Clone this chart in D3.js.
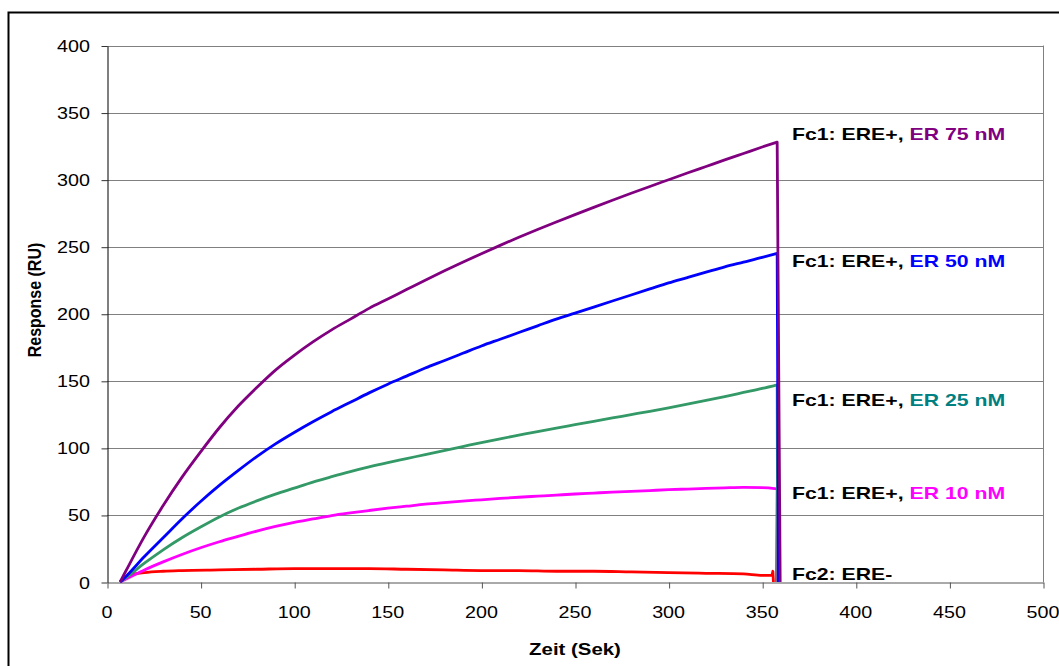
<!DOCTYPE html>
<html>
<head>
<meta charset="utf-8">
<script src="https://cdn.jsdelivr.net/npm/d3@7"></script>
<style>
  html, body { margin: 0; padding: 0; background: #fff; }
  svg { display: block; }
  text { font-family: "Liberation Sans", Arial, sans-serif; }
</style>
</head>
<body>
<svg id="chart" width="1059" height="666"></svg>
<script>
// ---- data ----
const xTicks = [0, 50, 100, 150, 200, 250, 300, 350, 400, 450, 500];
const yTicks = [0, 50, 100, 150, 200, 250, 300, 350, 400];

const time = [7, 10, 20, 30, 40, 50, 60, 70, 80, 90, 100, 110, 120, 130, 140, 150, 160, 170, 180, 190,
              200, 210, 220, 230, 240, 250, 260, 270, 280, 290, 300, 310, 320, 330, 340, 350, 358];

const er75 = [0, 8, 34, 57, 78, 97, 115, 131, 145, 158, 169, 179, 188, 196, 204, 211, 218, 225, 231.8, 238.4,
              244.8, 251, 257, 262.8, 268.4, 273.9, 279.3, 284.6, 289.8, 294.9, 299.9, 304.9, 309.8, 314.7, 319.5, 324.3, 328];
const er50 = [0, 4, 19, 33, 47, 60, 72, 83, 93.5, 103, 111.5, 119.5, 127, 134, 141, 147.5, 153.5, 159.5, 165, 170.5,
              176, 181, 186, 191, 196, 200.5, 205, 209.5, 214, 218.5, 223, 227, 231, 235, 238.5, 242, 245];
const er25 = [0, 3, 14, 24, 33, 41, 48.5, 55, 60.5, 65.5, 70, 74.5, 78.5, 82.3, 85.8, 89, 92, 95, 98, 101,
              104, 106.8, 109.5, 112.2, 114.8, 117.3, 119.8, 122.3, 124.8, 127.3, 129.9, 132.6, 135.4, 138.3, 141.3, 144.3, 147];
const er10 = [0, 2, 9, 15, 20.5, 25.5, 30, 34, 38, 41.5, 44.5, 47, 49.5, 51.5, 53.3, 55, 56.5, 58, 59.2, 60.3,
              61.3, 62.3, 63.2, 64, 64.8, 65.6, 66.3, 67, 67.6, 68.2, 68.8, 69.3, 69.8, 70.2, 70.5, 70.3, 69.5];

const timeFc2 = [7, 10, 15, 20, 30, 40, 60, 80, 100, 120, 140, 160, 180, 200, 220, 240, 260, 280, 300, 320, 340, 350, 355, 355.7];
const fc2     = [0, 3, 6, 7, 8, 8.5, 9, 9.5, 10, 10, 10, 9.5, 9, 8.5, 8.5, 8, 8, 7.5, 7, 6.5, 6, 5, 5, 8];

// time at which each curve drops back to zero (end of injection)
const seriesNames = ["Fc2", "ER 10 nM", "ER 25 nM", "ER 50 nM", "ER 75 nM"];
const dropTime = [356, 357.6, 358.3, 358.7, 359.6];
const lineColors = ["#FF0000", "#FF00FF", "#339966", "#0000FF", "#800080"];

const labelPrefix = ["Fc2: ERE-", "Fc1: ERE+, ", "Fc1: ERE+, ", "Fc1: ERE+, ", "Fc1: ERE+, "];
const labelSuffix = ["", "ER 10 nM", "ER 25 nM", "ER 50 nM", "ER 75 nM"];
const labelColors = ["#000000", "#FF00FF", "#008080", "#0000FF", "#800080"];
const labelAt = [6, 66, 136, 239, 334]; // response value level each label is anchored at

// ---- layout ----
const svg = d3.select("#chart");
const x = d3.scaleLinear().domain([0, 500]).range([107, 1043]);
const y = d3.scaleLinear().domain([0, 400]).range([582, 45.5]);

// outer frame
svg.append("rect").attr("x", 8.5).attr("y", 12.5).attr("width", 1200).attr("height", 800)
  .attr("fill", "none").attr("stroke", "#000").attr("stroke-width", 2);

// gridlines
svg.append("g").selectAll("line").data(yTicks.filter(d => d > 0)).join("line")
  .attr("x1", x(0)).attr("x2", x(500))
  .attr("y1", d => Math.round(y(d)) + 0.5).attr("y2", d => Math.round(y(d)) + 0.5)
  .attr("stroke", "#808080").attr("stroke-width", 1);

// right plot border
svg.append("line").attr("x1", x(500) + 0.5).attr("x2", x(500) + 0.5)
  .attr("y1", y(400)).attr("y2", y(0)).attr("stroke", "#808080");

// axes
const yAxis = d3.axisLeft(y).tickValues(yTicks).tickSize(6).tickSizeOuter(0).tickFormat("");
const gy = svg.append("g").attr("transform", `translate(${x(0) + 0.5},0.5)`).call(yAxis);
gy.select(".domain").attr("stroke", "#000");
gy.selectAll(".tick line").attr("stroke", "#333");

const xAxis = d3.axisBottom(x).tickValues(xTicks).tickSize(6).tickSizeOuter(0).tickFormat("");
const gx = svg.append("g").attr("transform", `translate(0.5,${Math.round(y(0)) + 0.5})`).call(xAxis);
gx.select(".domain").attr("stroke", "#555");
gx.selectAll(".tick line").attr("stroke", "#555");

// tick labels (stretched horizontally like the original)
const sxReg = 1.16, sxBold = 1.2, sxLabel = 1.25;
svg.append("g").selectAll("text").data(yTicks).join("text")
  .attr("transform", d => `translate(90,${y(d) + 6.5}) scale(${sxReg},1)`)
  .attr("text-anchor", "end").attr("font-size", 17).attr("fill", "#000")
  .text(d => d);
svg.append("g").selectAll("text").data(xTicks).join("text")
  .attr("transform", d => `translate(${x(d)},618) scale(${sxReg},1)`)
  .attr("text-anchor", "middle").attr("font-size", 17).attr("fill", "#000")
  .text(d => d);

// axis titles
svg.append("text")
  .attr("transform", `translate(575,655) scale(${sxBold},1)`)
  .attr("text-anchor", "middle").attr("font-size", 17).attr("font-weight", "bold")
  .text("Zeit (Sek)");
svg.append("text")
  .attr("transform", `translate(41,300) scale(${sxBold},1) rotate(-90)`)
  .attr("text-anchor", "middle").attr("font-size", 16).attr("font-weight", "bold")
  .text("Response (RU)");

// curves: smooth association phase, then a straight drop back to zero
const seriesVals = [null, er10, er25, er50, er75];
const rise = d3.line().x(d => x(d[0])).y(d => y(d[1])).curve(d3.curveMonotoneX);
const curves = seriesNames.map((name, i) => {
  const t = i === 0 ? timeFc2 : time;
  const v = i === 0 ? fc2 : seriesVals[i];
  return { pts: t.map((tt, j) => [tt, v[j]]), drop: dropTime[i] };
});
svg.append("g").selectAll("path").data(curves).join("path")
  .attr("d", d => rise(d.pts) + `L${x(d.drop)},${y(0)}`)
  .attr("fill", "none")
  .attr("stroke", (d, i) => lineColors[i])
  .attr("stroke-width", 2.8)
  .attr("stroke-linejoin", "round");

// labels
const lbl = svg.append("g").selectAll("text").data(seriesNames).join("text")
  .attr("transform", (d, i) => `translate(792,${y(labelAt[i]) + 6}) scale(${sxLabel},1)`)
  .attr("font-size", 17).attr("font-weight", "bold");
lbl.append("tspan").attr("fill", "#000").text((d, i) => labelPrefix[i]);
lbl.append("tspan").attr("fill", (d, i) => labelColors[i]).text((d, i) => labelSuffix[i]);
</script>
</body>
</html>
